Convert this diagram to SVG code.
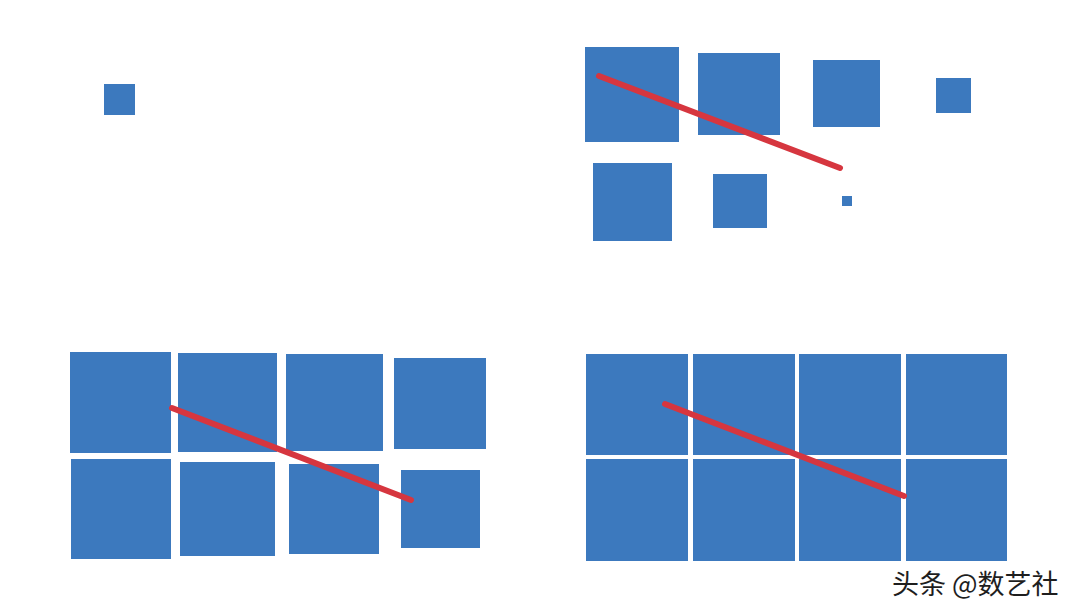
<svg xmlns="http://www.w3.org/2000/svg" width="1080" height="615" viewBox="0 0 1080 615">
<style>
.b{fill:#3c79be}
.r{stroke:#d6363f;stroke-width:6;stroke-linecap:round;fill:none}
.t{font-family:"Noto Sans CJK SC","Liberation Sans",sans-serif;font-size:27px;fill:#1e1e1e}
</style>
<rect width="1080" height="615" fill="#ffffff"/>
<g id="panel1">
<rect id="p1-s1" class="b" x="104" y="84" width="31" height="31"/>
</g>
<g id="panel2">
<rect id="p2-s1" class="b" x="585" y="47" width="94" height="95"/>
<rect id="p2-s2" class="b" x="698" y="53" width="82" height="82"/>
<rect id="p2-s3" class="b" x="813" y="60" width="67" height="67"/>
<rect id="p2-s4" class="b" x="936" y="78" width="35" height="35"/>
<rect id="p2-s5" class="b" x="593" y="163" width="79" height="78"/>
<rect id="p2-s6" class="b" x="713" y="174" width="54" height="54"/>
<rect id="p2-s7" class="b" x="842" y="196" width="10" height="10"/>
</g>
<g id="panel3">
<rect id="p3-s1" class="b" x="70" y="352" width="101" height="101"/>
<rect id="p3-s2" class="b" x="178" y="353" width="99" height="99"/>
<rect id="p3-s3" class="b" x="286" y="354" width="97" height="97"/>
<rect id="p3-s4" class="b" x="394" y="358" width="92" height="91"/>
<rect id="p3-s5" class="b" x="71" y="459" width="100" height="100"/>
<rect id="p3-s6" class="b" x="180" y="462" width="95" height="94"/>
<rect id="p3-s7" class="b" x="289" y="464" width="90" height="90"/>
<rect id="p3-s8" class="b" x="401" y="470" width="79" height="78"/>
</g>
<g id="panel4">
<rect id="p4-s1" class="b" x="586" y="354" width="102" height="101"/>
<rect id="p4-s2" class="b" x="693" y="354" width="102" height="101"/>
<rect id="p4-s3" class="b" x="799" y="354" width="102" height="101"/>
<rect id="p4-s4" class="b" x="906" y="354" width="101" height="101"/>
<rect id="p4-s5" class="b" x="586" y="459" width="102" height="102"/>
<rect id="p4-s6" class="b" x="693" y="459" width="102" height="102"/>
<rect id="p4-s7" class="b" x="799" y="459" width="102" height="102"/>
<rect id="p4-s8" class="b" x="906" y="459" width="101" height="102"/>
</g>
<g id="connectors">
<line class="r" x1="599" y1="76" x2="840" y2="168"/>
<line class="r" x1="172" y1="408" x2="411" y2="500"/>
<line class="r" x1="665" y1="404" x2="904" y2="496"/>
</g>
<text class="t" x="892" y="594">头条 @数艺社</text>
</svg>
